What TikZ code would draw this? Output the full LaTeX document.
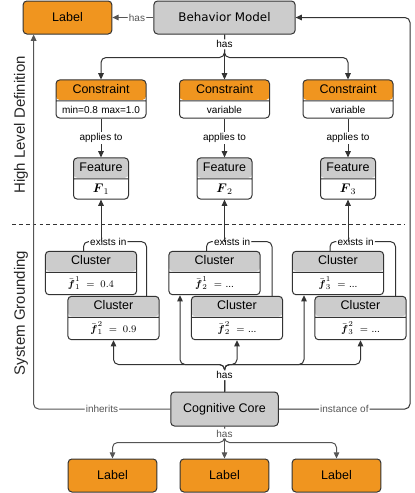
\documentclass[tikz,border=0pt]{standalone}
\usepackage{amsmath}
\usepackage{amssymb}
\usepackage[no-math]{fontspec}
\setmainfont{Liberation Sans}
\newfontfamily\modelfont{DejaVu Sans}
\usepackage{xcolor}
\usepackage{tikz}
\usetikzlibrary{shapes.multipart, arrows.meta, positioning}
\definecolor{boxorange}{HTML}{F0951F}
\definecolor{boxgrey}{HTML}{CCCCCC}
\definecolor{edgec}{HTML}{333333}
\definecolor{lblgrey}{HTML}{555555}
\tikzstyle{labelbox} = [rectangle, rounded corners=3pt, minimum width=71pt, minimum height=26.4pt, text centered, draw=edgec, line width=0.8pt, fill=boxorange, font=\fontsize{10}{12}\selectfont]
\tikzstyle{model} = [rectangle, rounded corners=3pt, minimum width=113pt, minimum height=26.4pt, text centered, draw=edgec, line width=0.8pt, fill=boxgrey, font=\modelfont\fontsize{9.5}{11}\selectfont]
\tikzstyle{core} = [rectangle, rounded corners=3pt, minimum width=86pt, minimum height=27.2pt, text centered, draw=edgec, line width=0.8pt, fill=boxgrey, font=\fontsize{10}{12}\selectfont]
\tikzstyle{twopart} = [rectangle split, rectangle split parts=2, rounded corners=3pt, draw=edgec, line width=0.8pt, fill=white, inner xsep=2pt, inner ysep=3.5pt, text height=7pt, text depth=2pt, align=center, font=\fontsize{10}{12}\selectfont]
\tikzstyle{constraint} = [twopart, text width=68pt, every two node part/.style={font=\fontsize{8}{9.6}\selectfont}, path picture={\fill[boxorange] ([yshift=-16pt]path picture bounding box.north west) rectangle (path picture bounding box.north east);}]
\tikzstyle{feature} = [twopart, text width=40pt, path picture={\fill[boxgrey] ([yshift=-16pt]path picture bounding box.north west) rectangle (path picture bounding box.north east);}]
\tikzstyle{cluster} = [twopart, text width=69pt, every two node part/.style={font=\fontsize{8}{9.6}\selectfont}, path picture={\fill[boxgrey] ([yshift=-16pt]path picture bounding box.north west) rectangle (path picture bounding box.north east);}]
\tikzstyle{lbl} = [fill=white, inner sep=1pt, font=\fontsize{8}{9.6}\selectfont]
\tikzstyle{side} = [rotate=90, font=\fontsize{12}{14}\selectfont, text=black!85]
\tikzstyle{arrow} = [line width=0.8pt, draw=edgec, rounded corners=4pt, -{Triangle[length=5pt,width=4.5pt]}]
\tikzstyle{arrowg} = [arrow, draw=lblgrey]
\tikzstyle{line} = [line width=0.8pt, draw=edgec, rounded corners=4pt]

\begin{document}
\begin{tikzpicture}[on grid]
	\useasboundingbox (0,0) rectangle (332pt,-394.4pt);

	% high level definition
	\node (model) [model] at (179.6pt,-14pt) {Behavior Model};
	\node (toplabel) [labelbox, left=125.6pt of model] {Label};
	\node (con2) [constraint, below=65.2pt of model] {Constraint \nodepart{two} variable};
	\node (con1) [constraint, left=98.8pt of con2] {Constraint \nodepart{two} min=0.8 max=1.0};
	\node (con3) [constraint, right=98.8pt of con2] {Constraint \nodepart{two} variable};
	\node (feat1) [feature, below=63.6pt of con1] {Feature \nodepart{two} $\boldsymbol{F}_1$};
	\node (feat2) [feature, below=63.6pt of con2] {Feature \nodepart{two} $\boldsymbol{F}_2$};
	\node (feat3) [feature, below=63.6pt of con3] {Feature \nodepart{two} $\boldsymbol{F}_3$};

	% system grounding
	\node (clu1a) [cluster, below=75.6pt of feat1, xshift=-8pt] {Cluster \nodepart{two} $\bar{\boldsymbol{f}}_1^1 = 0.4$};
	\node (clu1b) [cluster, below right=36pt and 18pt of clu1a] {Cluster \nodepart{two} $\bar{\boldsymbol{f}}_1^2 = 0.9$};
	\node (clu2a) [cluster, below=75.6pt of feat2, xshift=-8pt] {Cluster \nodepart{two} $\bar{\boldsymbol{f}}_2^1 =$ ...};
	\node (clu2b) [cluster, below right=36pt and 18pt of clu2a] {Cluster \nodepart{two} $\bar{\boldsymbol{f}}_2^2 =$ ...};
	\node (clu3a) [cluster, below=75.6pt of feat3, xshift=-8pt] {Cluster \nodepart{two} $\bar{\boldsymbol{f}}_3^1 =$ ...};
	\node (clu3b) [cluster, below right=36pt and 18pt of clu3a] {Cluster \nodepart{two} $\bar{\boldsymbol{f}}_3^2 =$ ...};
	\node (core) [core, below=313.2pt of model] {Cognitive Core};
	\node (lab2) [labelbox, below=53.2pt of core] {Label};
	\node (lab1) [labelbox, left=89.6pt of lab2] {Label};
	\node (lab3) [labelbox, right=89.6pt of lab2] {Label};

	\node (hld) [side] at (16.8pt,-100pt) {High Level Definition};
	\node (sgr) [side] at (16.8pt,-250.4pt) {System Grounding};
	\draw [line, dash pattern=on 3pt off 2.5pt] (9.6pt,-179.2pt) -- (324pt,-179.2pt);

	\coordinate (ex1) at ([yshift=-33.6pt]feat1.south);
	\coordinate (ex2) at ([yshift=-33.6pt]feat2.south);
	\coordinate (ex3) at ([yshift=-33.6pt]feat3.south);
	\coordinate (rgt) at (328pt,-14pt);

	\draw [arrowg] (model.west) -- node[lbl, pos=0.4, text=lblgrey] {has} (toplabel.east);
	\draw [arrow] (model.south) -- ++(0,-18.4pt) -| (con1.north);
	\draw [arrow] (model.south) -- ++(0,-18.4pt) -| (con3.north);
	\draw [arrow] (model.south) -- node[lbl, pos=0.22] {has} (con2.north);

	\draw [arrow] (con1.south) -- node[lbl] {applies to} (feat1.north);
	\draw [arrow] (con2.south) -- node[lbl] {applies to} (feat2.north);
	\draw [arrow] (con3.south) -- node[lbl] {applies to} (feat3.north);

	\draw [line] ([xshift=-6pt]clu1a.north) |- (ex1) -| node[lbl, pos=0.08] {exists in} ([xshift=26.4pt]clu1b.north);
	\draw [line] ([xshift=-6.4pt]clu2a.north) |- (ex2) -| node[lbl, pos=0.08] {exists in} ([xshift=28pt]clu2b.north);
	\draw [line] ([xshift=-6.4pt]clu3a.north) |- (ex3) -| node[lbl, pos=0.08] {exists in} ([xshift=28pt]clu3b.north);
	\draw [arrow] (ex1) -- (feat1.south);
	\draw [arrow] (ex2) -- (feat2.south);
	\draw [arrow] (ex3) -- (feat3.south);

	\draw [arrow] (core.north) -- ++(0,21.6pt) -| (clu1b.south);
	\draw [arrow] (core.north) -- ++(0,21.6pt) -| ([xshift=-27.6pt]clu2a.south);
	\draw [arrow] (core.north) -- ++(0,21.6pt) -| ([xshift=-27.2pt]clu3a.south);
	\draw [arrow] (core.north) -- ++(0,21.6pt) -| (clu3b.south);
	\draw [arrow] (core.north) -- node[lbl, pos=0.6] {has} ++(0,21.6pt) -| (clu2b.south);

	\draw [arrowg] (core.west) -| node[lbl, pos=0.25, text=lblgrey] {inherits} ([xshift=8.8pt]toplabel.south west);
	\draw [arrow] (core.east) -| node[lbl, pos=0.25, text=lblgrey] {instance of} (rgt) -- (model.east);

	\draw [arrowg] (core.south) -- ++(0,-12.8pt) -| (lab1.north);
	\draw [arrowg] (core.south) -- ++(0,-12.8pt) -| (lab3.north);
	\draw [arrowg] (core.south) -- node[lbl, pos=0.22, text=lblgrey] {has} (lab2.north);
\end{tikzpicture}
\end{document}
